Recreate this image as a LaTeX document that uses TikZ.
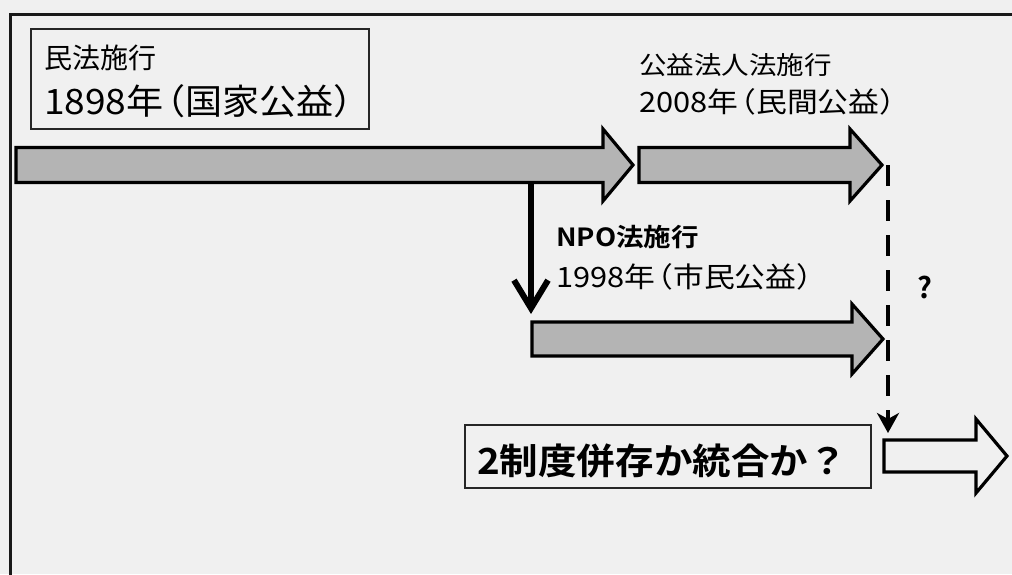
\documentclass[tikz,border=0pt]{standalone}
\usepackage{fontspec}
\setmainfont{Noto Sans CJK JP}
\newfontfamily\jpbold{Noto Sans CJK JP Bold}
\usetikzlibrary{arrows.meta}
\definecolor{bg}{HTML}{F0F0F0}
\definecolor{arrfill}{HTML}{B4B4B4}
\newcommand\fatarr[7]{%
  \draw[#1] (#2,#5-#6) -- (#3,#5-#6) -- (#3,#5-#7) -- (#4,#5) -- (#3,#5+#7) -- (#3,#5+#6) -- (#2,#5+#6) -- cycle;}
\newcommand\txt[3]{\scalebox{#2}[1]{\fontsize{#1}{#1}\selectfont #3}}
\newcommand\lp{\kern-0.42em（}
\newcommand\rp{）\kern-0.42em}
\tikzset{
  fat/.style={draw=black, line width=3.2pt, line join=miter, fill=arrfill},
  hollow/.style={draw=black, line width=3.2pt, line join=miter, fill=bg},
  lbl/.style={anchor=west, inner sep=0pt, text=black},
  framebox/.style={draw=black!85, line width=1.6pt, inner sep=0pt},
}
\begin{document}
\begin{tikzpicture}[x=1pt,y=-1pt]
\useasboundingbox (0,0) rectangle (1012,574);
\fill[bg] (0,0) rectangle (1012,574);
% outer frame
\draw[line width=3pt, black!90] (10,580) -- (10,14) -- (1020,14);
% top-left box
\node[framebox, minimum width=338pt, minimum height=100pt] (box1) at (200,79) {};
\node[lbl] (t1a) at (44,58) {\txt{28}{1}{民法施行}};
\node[lbl] (t1b) at (44,101) {\txt{35}{1.06}{1898年\lp 国家公益\rp}};
% 2008 labels
\node[lbl] (t2a) at (639,65) {\txt{25}{1.1}{公益法人法施行}};
\node[lbl] (t2b) at (639,102) {\txt{28}{1.1}{2008年\lp 民間公益\rp}};
% NPO labels
\node[lbl] (t3a) at (556,237) {\txt{25}{1.1}{\jpbold NPO法施行}};
\node[lbl] (t3b) at (556,277) {\txt{28}{1.1}{1998年\lp 市民公益\rp}};
% question mark
\node[lbl] (q) at (917,287) {\txt{29}{1}{\jpbold ?}};
% fat arrows
\fatarr{fat}{16}{603}{633}{165}{17.5}{36}
\fatarr{fat}{639}{850}{882}{165}{17.5}{36}
\fatarr{fat}{532}{852}{883}{339}{17}{35}
\fatarr{hollow}{884}{976}{1007}{456}{16}{37}
% connector coordinates
\coordinate (a1bot) at (531,184);
\coordinate (a3top) at (531,314);
\coordinate (a2tip) at (888,165);
\coordinate (a4top) at (888,433);
\draw[line width=6pt, -{Straight Barb[length=28pt,width=34pt]}] (a1bot) -- (a3top);
\draw[line width=4.5pt, dash pattern=on 21pt off 14pt, -{Stealth[length=20pt,width=22pt,inset=6pt]}] (a2tip) -- (a4top);
% bottom box
\node[framebox, minimum width=406pt, minimum height=63pt] (box2) at (668,456.5) {};
\node[lbl] (t4) at (477,461) {\txt{36}{1.07}{\jpbold 2制度併存か統合か？}};
\end{tikzpicture}
\end{document}
